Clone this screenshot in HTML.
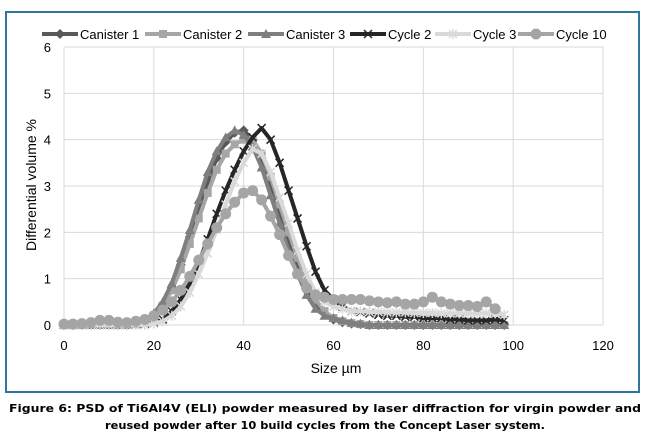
<!DOCTYPE html>
<html><head><meta charset="utf-8"><style>
html,body{margin:0;padding:0;background:#fff;width:650px;height:436px;overflow:hidden}
svg{display:block;font-family:"Liberation Sans",sans-serif}
</style></head><body>
<svg id="chart" width="650" height="436" viewBox="0 0 650 436" xmlns="http://www.w3.org/2000/svg">
<rect x="6" y="12" width="633" height="380" fill="#fff" stroke="#2e75a0" stroke-width="2"/>
<g id="grid"></g>
<g id="series"></g>
<g id="ticks" font-size="13" fill="#000"></g>
<g id="legend" font-size="13"></g>
<text transform="translate(36,185) rotate(-90)" text-anchor="middle" font-size="14">Differential volume %</text>
<text x="336" y="373" text-anchor="middle" font-size="14">Size µm</text>
<text x="325" y="412" text-anchor="middle" font-family="DejaVu Sans, sans-serif" font-weight="bold" font-size="11" textLength="632" lengthAdjust="spacingAndGlyphs">Figure 6: PSD of Ti6Al4V (ELI) powder measured by laser diffraction for virgin powder and</text>
<text x="325" y="429" text-anchor="middle" font-family="DejaVu Sans, sans-serif" font-weight="bold" font-size="11" textLength="440" lengthAdjust="spacingAndGlyphs">reused powder after 10 build cycles from the Concept Laser system.</text>
</svg>
<script>
const xTicks=[0,20,40,60,80,100,120];
const yTicks=[0,1,2,3,4,5,6];
const sizes=[0,2,4,6,8,10,12,14,16,18,20,22,24,26,28,30,32,34,36,38,40,42,44,46,48,50,52,54,56,58,60,62,64,66,68,70,72,74,76,78,80,82,84,86,88,90,92,94,96,98];
const canister1=[0,0,0,0,0,0,0,0,0.02,0.08,0.2,0.45,0.8,1.3,1.9,2.5,3.1,3.6,3.95,4.15,4.2,4.0,3.6,3.0,2.4,1.8,1.3,0.8,0.45,0.25,0.12,0.06,0.03,0.02,0,0,0,0,0,0,0,0,0,0,0,0,0,0,0,0];
const canister2=[0,0,0,0,0,0,0,0,0.02,0.08,0.2,0.42,0.75,1.2,1.75,2.3,2.85,3.35,3.7,3.9,4.0,4.0,3.7,3.2,2.6,2.0,1.45,0.95,0.55,0.3,0.15,0.08,0.04,0.02,0,0,0,0,0,0,0,0,0,0,0,0,0,0,0,0];
const canister3=[0,0,0,0,0,0,0,0,0.03,0.1,0.25,0.5,0.9,1.45,2.05,2.7,3.3,3.75,4.05,4.2,4.1,3.85,3.4,2.8,2.2,1.6,1.1,0.65,0.35,0.2,0.15,0.1,0.05,0.03,0,0,0,0,0,0,0,0,0,0,0,0,0,0,0,0];
const cycle2=[0,0,0,0,0,0,0,0,0,0.02,0.05,0.12,0.3,0.55,0.9,1.35,1.85,2.4,2.9,3.35,3.75,4.05,4.25,4.0,3.5,2.9,2.3,1.7,1.15,0.75,0.55,0.4,0.3,0.28,0.25,0.22,0.2,0.2,0.18,0.18,0.15,0.15,0.15,0.12,0.12,0.1,0.1,0.1,0.12,0.1];
const cycle3=[0,0,0,0,0,0,0,0,0,0,0.03,0.08,0.2,0.4,0.7,1.1,1.55,2.05,2.6,3.1,3.5,3.8,3.7,3.3,2.75,2.2,1.6,1.1,0.7,0.5,0.4,0.35,0.3,0.3,0.28,0.28,0.27,0.27,0.27,0.26,0.26,0.26,0.25,0.25,0.25,0.25,0.25,0.25,0.25,0.22];
const cycle10=[0.02,0.02,0.03,0.05,0.1,0.1,0.06,0.05,0.08,0.12,0.2,0.32,0.5,0.75,1.05,1.4,1.75,2.1,2.4,2.65,2.85,2.9,2.7,2.35,1.95,1.5,1.1,0.8,0.65,0.6,0.55,0.55,0.55,0.55,0.52,0.5,0.48,0.5,0.45,0.45,0.5,0.6,0.5,0.45,0.42,0.42,0.4,0.5,0.35,null];
const seriesNames=["Canister 1","Canister 2","Canister 3","Cycle 2","Cycle 3","Cycle 10"];

const NS="http://www.w3.org/2000/svg";
const X0=64,X1=603,Y0=325,Y1=47;
function sx(v){return X0+(v-0)/(120-0)*(X1-X0);}
function sy(v){return Y0-(v-0)/(6-0)*(Y0-Y1);}
function mk(tag,attrs,parent){const e=document.createElementNS(NS,tag);for(const k in attrs)e.setAttribute(k,attrs[k]);parent.appendChild(e);return e;}

const grid=document.getElementById('grid'),ticks=document.getElementById('ticks');
yTicks.forEach(t=>{
  const l=mk('line',{x1:X0,x2:X1,y1:sy(t),y2:sy(t),stroke:'#d9d9d9','stroke-width':1},grid);
  
  
  const tx=mk('text',{x:X0-13,y:sy(t)+5,'text-anchor':'end'},ticks);tx.textContent=t;
  
  
});
xTicks.forEach(t=>{
  const l=mk('line',{x1:sx(t),x2:sx(t),y1:Y1,y2:Y0,stroke:'#d9d9d9','stroke-width':1},grid);
  
  
  const tx=mk('text',{x:sx(t),y:Y0+25,'text-anchor':'middle'},ticks);tx.textContent=t;
  
  
});

const styles=[
 {c:'#595959',m:'diamond'},{c:'#a6a6a6',m:'square'},{c:'#7f7f7f',m:'triangle'},
 {c:'#262626',m:'x'},{c:'#d9d9d9',m:'star'},{c:'#a5a5a5',m:'circle'}];
function marker(g,type,x,y,c){
  if(type==='diamond')return mk('path',{d:`M${x} ${y-5}L${x+5} ${y}L${x} ${y+5}L${x-5} ${y}Z`,fill:c},g);
  if(type==='square')return mk('rect',{x:x-4,y:y-4,width:8,height:8,fill:c},g);
  if(type==='triangle')return mk('path',{d:`M${x} ${y-5}L${x+5} ${y+4}L${x-5} ${y+4}Z`,fill:c},g);
  if(type==='x')return mk('path',{d:`M${x-4} ${y-4}L${x+4} ${y+4}M${x+4} ${y-4}L${x-4} ${y+4}`,stroke:c,'stroke-width':1.5,fill:'none'},g);
  if(type==='star')return mk('path',{d:`M${x-4} ${y-4}L${x+4} ${y+4}M${x+4} ${y-4}L${x-4} ${y+4}M${x} ${y-5}L${x} ${y+5}`,stroke:c,'stroke-width':1.5,fill:'none'},g);
  return mk('circle',{cx:x,cy:y,r:5.5,fill:c},g);
}
const seriesData=[canister1,canister2,canister3,cycle2,cycle3,cycle10];
const slug=["canister-1","canister-2","canister-3","cycle-2","cycle-3","cycle-10"];
const sl=document.getElementById('series');
seriesData.forEach((vals,i)=>{
  const g=mk('g',{},sl);
  
  
  let d='';
  vals.forEach((v,j)=>{if(v===null)return;d+=(d?'L':'M')+sx(sizes[j]).toFixed(1)+' '+sy(v).toFixed(1);});
  const p=mk('path',{d:d,fill:'none',stroke:styles[i].c,'stroke-width':4,'stroke-linejoin':'round'},g);
  
  
  vals.forEach((v,j)=>{if(v===null)return;
    const m=marker(g,styles[i].m,sx(sizes[j]),sy(v),styles[i].c);
    
    
  });
});

const lg=document.getElementById('legend');
const lx=[42,145,248,350,435,518];
seriesNames.forEach((n,i)=>{
  const g=mk('g',{},lg);
  
  
  mk('line',{x1:lx[i],x2:lx[i]+36,y1:34,y2:34,stroke:styles[i].c,'stroke-width':4},g);
  marker(g,styles[i].m,lx[i]+18,34,styles[i].c);
  const t=mk('text',{x:lx[i]+38,y:39},g);t.textContent=n;
});
</script>
</body></html>
